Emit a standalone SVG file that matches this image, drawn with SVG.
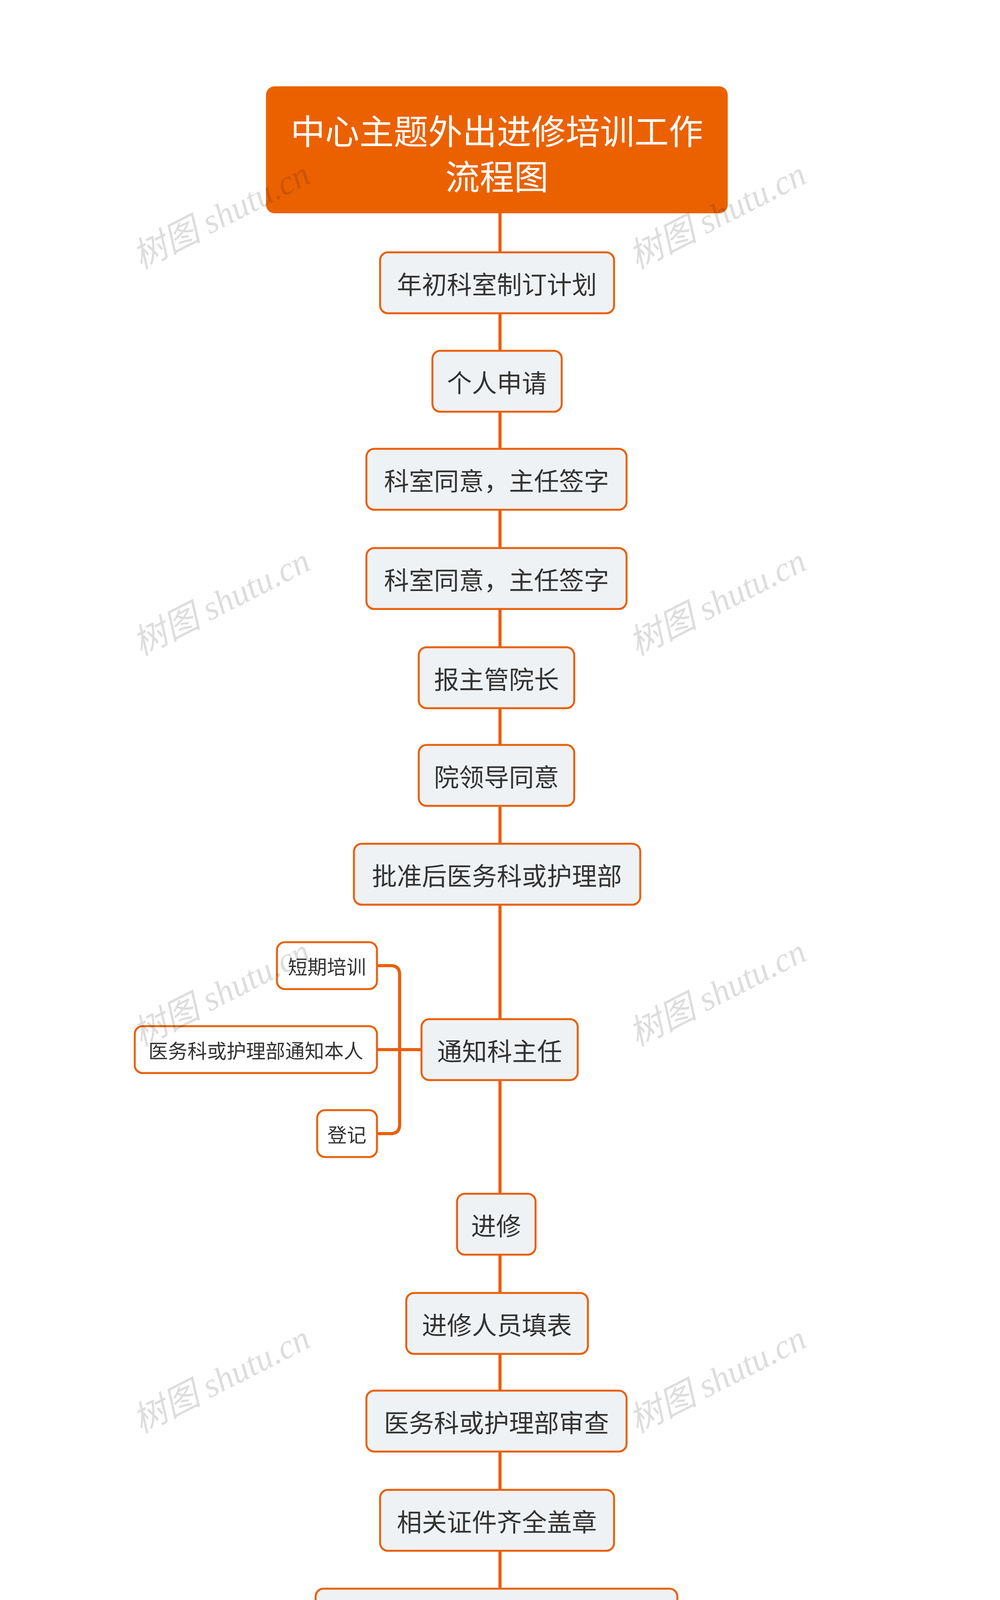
<svg xmlns="http://www.w3.org/2000/svg" width="2560" height="6213" viewBox="0 0 2560 6213">
<style>
.n rect{fill:#EFF2F5;stroke:#E8600A;stroke-width:5}
.c rect{fill:#FFFFFF;stroke:#E8600A;stroke-width:5}
.n text{font-family:"Noto Sans CJK SC","Noto Sans",sans-serif;font-size:64px;fill:#333333;text-anchor:middle;dominant-baseline:central}
.c text{font-family:"Noto Sans CJK SC","Noto Sans",sans-serif;font-size:50px;fill:#333333;text-anchor:middle;dominant-baseline:central}
.e{fill:none;stroke:#E8600A;stroke-width:8}
.w{font-family:"Liberation Serif","Noto Sans CJK SC",serif;font-style:italic;font-size:88px;fill:#000;opacity:0.13}
</style>
<rect width="2560" height="6213" fill="#FFFFFF"/>
<g id="connectors">
<line class="e" x1="1280" y1="546" x2="1280" y2="5836"/>
<path class="e" d="M1079 2687H1023M965 2472H1000Q1023 2472 1023 2495V2879Q1023 2902 1000 2902H965M965 2687H1023"/>
</g>
<g id="root"><rect x="681" y="221" width="1182" height="325" rx="22" fill="#EB6100"/>
<text x="1272" y="330" font-family="Noto Sans CJK SC,sans-serif" font-size="88" fill="#FFFFFF" text-anchor="middle" dominant-baseline="central">中心主题外出进修培训工作</text>
<text x="1272" y="446" font-family="Noto Sans CJK SC,sans-serif" font-size="88" fill="#FFFFFF" text-anchor="middle" dominant-baseline="central">流程图</text></g>
<g id="n1" class="n"><rect x="973" y="646" width="599" height="156" rx="20"/><text x="1272" y="724">年初科室制订计划</text></g>
<g id="n2" class="n"><rect x="1107" y="898" width="331" height="156" rx="20"/><text x="1272" y="976">个人申请</text></g>
<g id="n3" class="n"><rect x="938" y="1149" width="666" height="156" rx="20"/><text x="1271" y="1227">科室同意，主任签字</text></g>
<g id="n4" class="n"><rect x="938" y="1403" width="666" height="156" rx="20"/><text x="1271" y="1481">科室同意，主任签字</text></g>
<g id="n5" class="n"><rect x="1072" y="1657" width="398" height="156" rx="20"/><text x="1271" y="1735">报主管院长</text></g>
<g id="n6" class="n"><rect x="1072" y="1907" width="398" height="156" rx="20"/><text x="1271" y="1985">院领导同意</text></g>
<g id="n7" class="n"><rect x="906" y="2160" width="733" height="156" rx="20"/><text x="1272" y="2238">批准后医务科或护理部</text></g>
<g id="n8" class="n"><rect x="1079" y="2609" width="400" height="156" rx="20"/><text x="1279" y="2687">通知科主任</text></g>
<g id="c1" class="c"><rect x="709" y="2412" width="256" height="120" rx="20"/><text x="837" y="2472">短期培训</text></g>
<g id="c2" class="c"><rect x="345" y="2627" width="620" height="120" rx="20"/><text x="655" y="2687">医务科或护理部通知本人</text></g>
<g id="c3" class="c"><rect x="812" y="2842" width="153" height="120" rx="20"/><text x="888" y="2902">登记</text></g>
<g id="n9" class="n"><rect x="1170" y="3056" width="201" height="156" rx="20"/><text x="1270" y="3134">进修</text></g>
<g id="n10" class="n"><rect x="1040" y="3310" width="465" height="156" rx="20"/><text x="1272" y="3388">进修人员填表</text></g>
<g id="n11" class="n"><rect x="938" y="3560" width="666" height="156" rx="20"/><text x="1271" y="3638">医务科或护理部审查</text></g>
<g id="n12" class="n"><rect x="973" y="3814" width="599" height="156" rx="20"/><text x="1272" y="3892">相关证件齐全盖章</text></g>
<g id="n13" class="n"><rect x="808" y="4067" width="926" height="156" rx="20"/><text x="1271" y="4145">申请表及年复印件寄进修单位</text></g>
<g id="n14" class="n"><rect x="1040" y="4321" width="465" height="156" rx="20"/><text x="1272" y="4399">接到进修通知</text></g>
<g id="n15" class="n"><rect x="938" y="4571" width="666" height="156" rx="20"/><text x="1271" y="4649">人事科办理相关手续</text></g>
<g id="n16" class="n"><rect x="571" y="4825" width="1399" height="156" rx="20"/><text x="1270" y="4903">到已确定进修学习单位进修学习或短期培训</text></g>
<g id="n17" class="n"><rect x="221" y="5079" width="2104" height="156" rx="20"/><text x="1273" y="5157">结束后医务科或护理部备案，学分卡、进修表、个人进修培训总结</text></g>
<g id="n18" class="n"><rect x="808" y="5328" width="926" height="156" rx="20"/><text x="1271" y="5406">人事科销假，向主管院长汇报</text></g>
<g id="n19" class="n"><rect x="867" y="5582" width="811" height="156" rx="20"/><text x="1272" y="5660">科室内所学知识应用开展</text></g>
<g id="n20" class="n"><rect x="512" y="5836" width="1517" height="156" rx="20"/><text x="1270" y="5914">科室主任对所学知识应用开展进行评价总结</text></g>
<g id="watermarks">
<text class="w" transform="translate(360,690) rotate(-27)">树图 shutu.cn</text>
<text class="w" transform="translate(1630,690) rotate(-27)">树图 shutu.cn</text>
<text class="w" transform="translate(360,1680) rotate(-27)">树图 shutu.cn</text>
<text class="w" transform="translate(1630,1680) rotate(-27)">树图 shutu.cn</text>
<text class="w" transform="translate(360,2680) rotate(-27)">树图 shutu.cn</text>
<text class="w" transform="translate(1630,2680) rotate(-27)">树图 shutu.cn</text>
<text class="w" transform="translate(360,3670) rotate(-27)">树图 shutu.cn</text>
<text class="w" transform="translate(1630,3670) rotate(-27)">树图 shutu.cn</text>
<text class="w" transform="translate(360,4670) rotate(-27)">树图 shutu.cn</text>
<text class="w" transform="translate(1630,4670) rotate(-27)">树图 shutu.cn</text>
<text class="w" transform="translate(360,5660) rotate(-27)">树图 shutu.cn</text>
<text class="w" transform="translate(1630,5660) rotate(-27)">树图 shutu.cn</text>
</g>
</svg>
